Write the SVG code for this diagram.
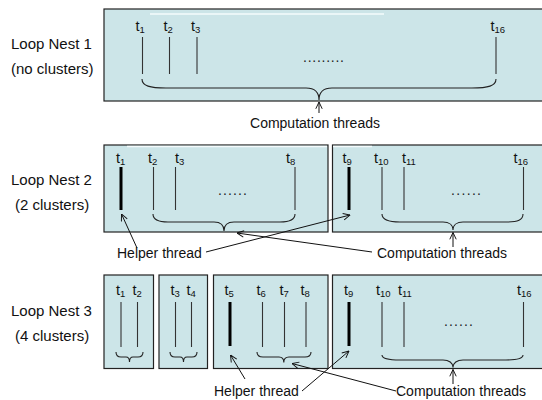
<svg xmlns="http://www.w3.org/2000/svg" width="542" height="400" viewBox="0 0 542 400">
<defs>
<marker id="arr" viewBox="0 0 10 10" refX="9.5" refY="5" markerWidth="8" markerHeight="8" markerUnits="userSpaceOnUse" orient="auto">
<path d="M1,1 L9.5,5 L1,9" fill="none" stroke="#111" stroke-width="1.2"/>
</marker>
</defs>
<style>
.box{fill:#cce5e8;stroke:#222;stroke-width:1.2}
.hl{stroke:#f4fbfc;stroke-width:1.5}
.th{stroke:#333;stroke-width:1.1}
.hp{stroke:#000;stroke-width:3}
.br{fill:none;stroke:#222;stroke-width:1.1}
.t{font-family:"Liberation Sans",Arial,sans-serif;font-size:14.5px;fill:#111}
.s{font-size:9.5px}
.lab{font-family:"Liberation Sans",Arial,sans-serif;font-size:15px;fill:#111}
.cap{font-family:"Liberation Sans",Arial,sans-serif;font-size:14px;fill:#111}
.dots{font-family:"Liberation Sans",Arial,sans-serif;font-size:14px;fill:#222}
.con{fill:none;stroke:#111;stroke-width:1;marker-end:url(#arr)}
</style>

<g id="row-labels">
<text class="lab" x="11" y="49">Loop Nest 1</text>
<text class="lab" x="11" y="74">(no clusters)</text>
<text class="lab" x="11" y="185">Loop Nest 2</text>
<text class="lab" x="15" y="210">(2 clusters)</text>
<text class="lab" x="11" y="316">Loop Nest 3</text>
<text class="lab" x="15" y="341">(4 clusters)</text>
</g>

<g id="nest1">
<rect class="box" x="104" y="9" width="445" height="92"/>
<line class="hl" x1="150" y1="14" x2="384" y2="14"/>
<line class="th" x1="142.5" y1="37" x2="142.5" y2="74"/>
<line class="th" x1="169.5" y1="37" x2="169.5" y2="74"/>
<line class="th" x1="197" y1="37" x2="197" y2="74"/>
<line class="th" x1="496" y1="37" x2="496" y2="74"/>
<text class="t" x="135.5" y="31">t<tspan class="s" dy="2">1</tspan></text>
<text class="t" x="163.5" y="31">t<tspan class="s" dy="2">2</tspan></text>
<text class="t" x="191" y="31">t<tspan class="s" dy="2">3</tspan></text>
<text class="t" x="490.5" y="31">t<tspan class="s" dy="2">16</tspan></text>
<text class="dots" x="303" y="62" textLength="41" lengthAdjust="spacing">.........</text>
<path class="br" d="M142,79 C142,86 150,88 166,88 L306,88 C314,88 319,92 319,100 C319,92 324,88 332,88 L472,88 C488,88 496,86 496,79"/>
<text class="cap" x="315" y="128" text-anchor="middle">Computation threads</text>
</g>

<g id="nest2-cluster1">
<rect class="box" x="104" y="145" width="224" height="87"/>
<line class="hl" x1="127" y1="146.5" x2="327" y2="146.5"/>
<line class="hp" x1="121" y1="167" x2="121" y2="210"/>
<line class="th" x1="153.5" y1="167" x2="153.5" y2="210"/>
<line class="th" x1="175.5" y1="167" x2="175.5" y2="210"/>
<line class="th" x1="295" y1="167" x2="295" y2="210"/>
<text class="t" x="116" y="162.5">t<tspan class="s" dy="2">1</tspan></text>
<text class="t" x="148" y="162.5">t<tspan class="s" dy="2">2</tspan></text>
<text class="t" x="175" y="162.5">t<tspan class="s" dy="2">3</tspan></text>
<text class="t" x="286" y="162.5">t<tspan class="s" dy="2">8</tspan></text>
<text class="dots" x="218" y="195" textLength="29" lengthAdjust="spacing">......</text>
<path class="br" d="M153,214 C153,220 158,222 168,222 L214,222 C220,222 224,225 224,231 C224,225 228,222 234,222 L280,222 C290,222 295,220 295,214"/>
</g>

<g id="nest2-cluster2">
<rect class="box" x="332.5" y="145" width="216" height="87"/>
<line class="hl" x1="333" y1="146.5" x2="372" y2="146.5"/>
<line class="hp" x1="349" y1="167" x2="349" y2="210"/>
<line class="th" x1="382" y1="167" x2="382" y2="210"/>
<line class="th" x1="404" y1="167" x2="404" y2="210"/>
<line class="th" x1="523.5" y1="167" x2="523.5" y2="210"/>
<text class="t" x="342.5" y="162.5">t<tspan class="s" dy="2">9</tspan></text>
<text class="t" x="374" y="162.5">t<tspan class="s" dy="2">10</tspan></text>
<text class="t" x="402" y="162.5">t<tspan class="s" dy="2">11</tspan></text>
<text class="t" x="513.5" y="162.5">t<tspan class="s" dy="2">16</tspan></text>
<text class="dots" x="451" y="195" textLength="30" lengthAdjust="spacing">......</text>
<path class="br" d="M382,214 C382,220 388,222 400,222 L443,222 C449,222 453,225 453,230 C453,225 457,222 463,222 L506,222 C518,222 523,220 523,214"/>
</g>

<g id="nest3-cluster1">
<rect class="box" x="104" y="275" width="49.5" height="93.5"/>
<line class="th" x1="121" y1="302" x2="121" y2="347"/>
<line class="th" x1="137.5" y1="302" x2="137.5" y2="347"/>
<text class="t" x="116" y="295">t<tspan class="s" dy="2">1</tspan></text>
<text class="t" x="132.5" y="295">t<tspan class="s" dy="2">2</tspan></text>
<path class="br" d="M116,352 C116,356 118,357 121,357 L126,357 C128,357 129.5,359 129.5,362 C129.5,359 131,357 133,357 L138,357 C141,357 143,356 143,352"/>
</g>

<g id="nest3-cluster2">
<rect class="box" x="159" y="275" width="48.5" height="93.5"/>
<line class="th" x1="175.5" y1="302" x2="175.5" y2="347"/>
<line class="th" x1="191.5" y1="302" x2="191.5" y2="347"/>
<text class="t" x="170.5" y="295">t<tspan class="s" dy="2">3</tspan></text>
<text class="t" x="186.5" y="295">t<tspan class="s" dy="2">4</tspan></text>
<path class="br" d="M170,352 C170,356 172,357 175,357 L180,357 C182,357 183.5,359 183.5,362 C183.5,359 185,357 187,357 L192,357 C195,357 197,356 197,352"/>
</g>

<g id="nest3-cluster3">
<rect class="box" x="213.5" y="275" width="114.5" height="93.5"/>
<line class="hp" x1="230" y1="302" x2="230" y2="346"/>
<line class="th" x1="262.5" y1="302" x2="262.5" y2="347"/>
<line class="th" x1="284.5" y1="302" x2="284.5" y2="347"/>
<line class="th" x1="306" y1="302" x2="306" y2="347"/>
<text class="t" x="224.5" y="295">t<tspan class="s" dy="2">5</tspan></text>
<text class="t" x="256.5" y="295">t<tspan class="s" dy="2">6</tspan></text>
<text class="t" x="279.5" y="295">t<tspan class="s" dy="2">7</tspan></text>
<text class="t" x="300.5" y="295">t<tspan class="s" dy="2">8</tspan></text>
<path class="br" d="M257,352 C257,356 259,357 263,357 L279,357 C282,357 283.8,359 283.8,362.5 C283.8,359 286,357 289,357 L305,357 C309,357 311,356 311,352"/>
</g>

<g id="nest3-cluster4">
<rect class="box" x="332.5" y="275" width="216" height="93.5"/>
<line class="hp" x1="349" y1="302" x2="349" y2="346"/>
<line class="th" x1="382" y1="302" x2="382" y2="347"/>
<line class="th" x1="404" y1="302" x2="404" y2="347"/>
<line class="th" x1="523.5" y1="302" x2="523.5" y2="347"/>
<text class="t" x="344" y="295">t<tspan class="s" dy="2">9</tspan></text>
<text class="t" x="376" y="295">t<tspan class="s" dy="2">10</tspan></text>
<text class="t" x="398" y="295">t<tspan class="s" dy="2">11</tspan></text>
<text class="t" x="517" y="295">t<tspan class="s" dy="2">16</tspan></text>
<text class="dots" x="444" y="326" textLength="29" lengthAdjust="spacing">......</text>
<path class="br" d="M382,355 C382,358 388,360 400,360 L443,360 C449,360 453,363 453,367.5 C453,363 457,360 463,360 L506,360 C518,360 523,358 523,355"/>
</g>

<g id="annotations">
<text class="cap" x="117" y="258">Helper thread</text>
<text class="cap" x="377" y="258">Computation threads</text>
<text class="cap" x="214" y="396">Helper thread</text>
<text class="cap" x="396" y="396">Computation threads</text>
</g>

<g id="connectors">
<line class="con" x1="319" y1="113" x2="319" y2="102"/>
<line class="con" x1="137" y1="248" x2="121.5" y2="214"/>
<line class="con" x1="206" y1="252" x2="350" y2="215"/>
<line class="con" x1="372" y1="252" x2="237" y2="233"/>
<line class="con" x1="453" y1="247" x2="453" y2="232.5"/>
<line class="con" x1="245" y1="379" x2="230.5" y2="355"/>
<line class="con" x1="302" y1="391" x2="349" y2="351"/>
<line class="con" x1="396" y1="391" x2="292" y2="363.5"/>
<line class="con" x1="453" y1="384" x2="453" y2="369.5"/>
</g>
</svg>
